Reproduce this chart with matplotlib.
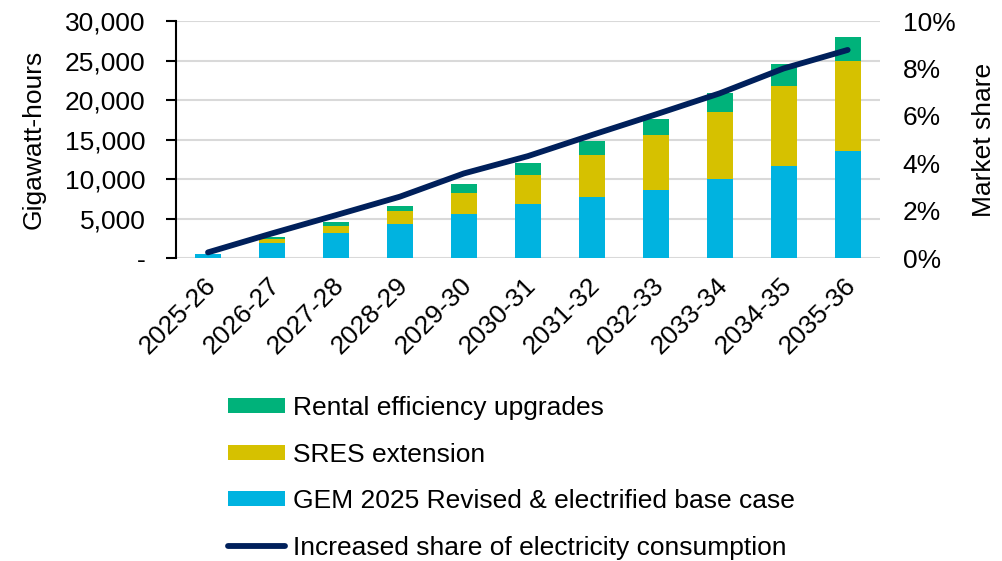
import numpy as np
import matplotlib
matplotlib.use('Agg')
import matplotlib.pyplot as plt
from matplotlib.ticker import FuncFormatter, PercentFormatter
from matplotlib.transforms import ScaledTranslation

plt.rcParams['font.family'] = ['Liberation Sans', 'DejaVu Sans']

# Data
years = ['2025-26', '2026-27', '2027-28', '2028-29', '2029-30', '2030-31',
         '2031-32', '2032-33', '2033-34', '2034-35', '2035-36']
gem_base = [500, 1940, 3120, 4350, 5610, 6880, 7720, 8650, 10000, 11690, 13540]
sres_ext = [0, 460, 890, 1550, 2620, 3670, 5320, 6920, 8440, 10120, 11400]
rental = [0, 220, 550, 720, 1100, 1430, 1770, 2060, 2450, 2790, 3070]
share = [0.24, 1.04, 1.81, 2.59, 3.57, 4.3, 5.19, 6.06, 6.95, 8.0, 8.78]

c_blue = '#00B3E0'
c_yellow = '#D6C100'
c_green = '#00B27A'
c_navy = '#00205B'
fs = 19

fig = plt.figure(figsize=(10.03, 5.61), dpi=100)
ax = fig.add_axes([0.1755, 0.540, 0.7015, 0.4225])
ax2 = ax.twinx()

x = np.arange(len(years))
gem = np.array(gem_base)
sres = np.array(sres_ext)
ren = np.array(rental)
w = 0.41
b1 = ax.bar(x, gem, w, color=c_blue, zorder=3, label='GEM 2025 Revised & electrified base case')
b2 = ax.bar(x, sres, w, bottom=gem, color=c_yellow, zorder=3, label='SRES extension')
b3 = ax.bar(x, ren, w, bottom=gem + sres, color=c_green, zorder=3, label='Rental efficiency upgrades')

ln, = ax2.plot(x, share, color=c_navy, lw=4.2, solid_capstyle='round',
               label='Increased share of electricity consumption')

ax.set_xlim(-0.5, len(years) - 0.5)
ax.set_ylim(0, 30000)
ax.set_yticks(np.arange(0, 30001, 5000))
ax.yaxis.set_major_formatter(FuncFormatter(lambda v, p: '-' if v == 0 else f'{v:,.0f}'))
ax2.set_ylim(0, 10)
ax2.set_yticks(np.arange(0, 11, 2))
ax2.yaxis.set_major_formatter(PercentFormatter(decimals=0))

ax.grid(axis='y', color='#D9D9D9', lw=1.5, zorder=0)
ax.set_axisbelow(True)
for a in (ax, ax2):
    for s in ['top', 'right', 'bottom']:
        a.spines[s].set_visible(False)
ax2.spines['left'].set_visible(False)
ax.spines['left'].set_linewidth(1.5)
ax.tick_params(axis='y', direction='out', length=7, width=1.5, labelsize=fs, pad=15)
ax.tick_params(axis='x', length=0, labelsize=fs, pad=11)
ax2.tick_params(axis='y', length=0, labelsize=fs, pad=16.5)

ax.set_xticks(x)
ax.set_xticklabels(years, rotation=45, ha='right', rotation_mode='anchor')
shift = ScaledTranslation(-0.04, 0, fig.dpi_scale_trans)
for lab in ax.get_xticklabels():
    lab.set_transform(lab.get_transform() + shift)

ax.set_ylabel('Gigawatt-hours', fontsize=fs, labelpad=14)
ax2.set_ylabel('Market share', fontsize=fs, labelpad=12)

fig.legend([b3, b2, b1, ln],
           [b3.get_label(), b2.get_label(), b1.get_label(), ln.get_label()],
           loc='upper left', bbox_to_anchor=(0.2273, 0.2942), frameon=False,
           fontsize=fs, handlelength=2.16, handleheight=0.5, handletextpad=0.3,
           labelspacing=0.855, borderaxespad=0, borderpad=0)

fig.savefig('out.png', dpi=100)
